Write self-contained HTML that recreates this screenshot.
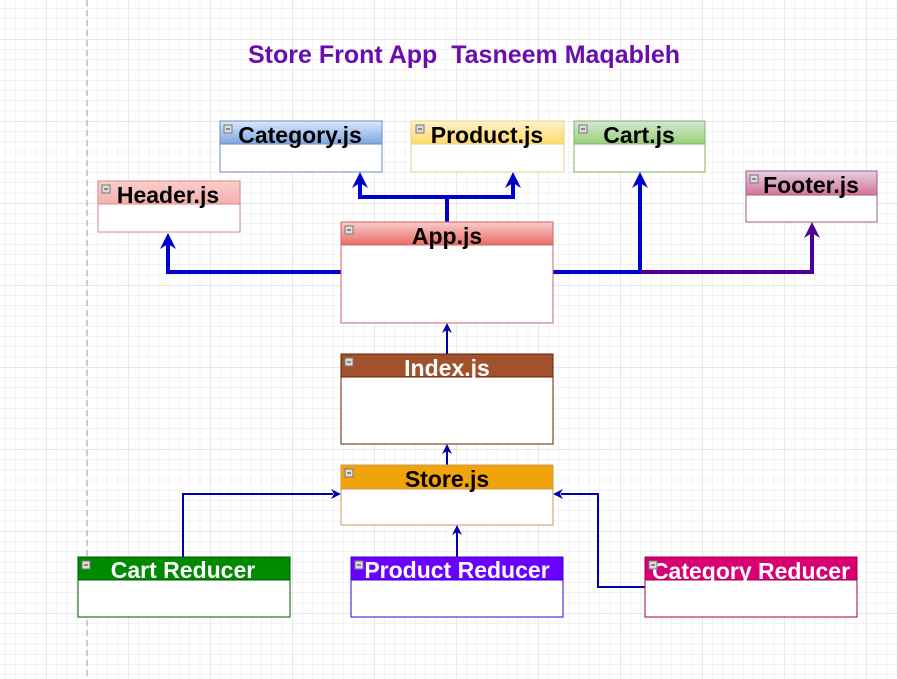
<!DOCTYPE html>
<html><head><meta charset="utf-8"><style>
html,body{margin:0;padding:0;background:#fff}
svg{display:block}
text{font-family:"Liberation Sans",sans-serif;font-weight:bold;white-space:pre}
</style></head><body>
<svg width="897" height="679" viewBox="0 0 897 679" xmlns="http://www.w3.org/2000/svg">
<defs>
<pattern id="minor" x="46" y="39" width="10.25" height="10.25" patternUnits="userSpaceOnUse">
<path d="M0 0H10.25M0 0V10.25" stroke="#e6e6e6" stroke-width="1" fill="none"/>
</pattern>
<pattern id="major" x="46" y="39" width="82" height="82" patternUnits="userSpaceOnUse">
<path d="M0 0H82M0 0V82" stroke="#d0d0d0" stroke-width="1" fill="none"/>
</pattern>
<linearGradient id="gBlue" x1="0" y1="0" x2="0" y2="1"><stop offset="0" stop-color="#dae8fc"/><stop offset="1" stop-color="#7ea6e0"/></linearGradient>
<linearGradient id="gYel" x1="0" y1="0" x2="0" y2="1"><stop offset="0" stop-color="#fff2cc"/><stop offset="1" stop-color="#ffd966"/></linearGradient>
<linearGradient id="gGrn" x1="0" y1="0" x2="0" y2="1"><stop offset="0" stop-color="#d5e8d4"/><stop offset="1" stop-color="#97d077"/></linearGradient>
<linearGradient id="gPink" x1="0" y1="0" x2="0" y2="1"><stop offset="0" stop-color="#f8cecc"/><stop offset="1" stop-color="#f5b0ae"/></linearGradient>
<linearGradient id="gRed" x1="0" y1="0" x2="0" y2="1"><stop offset="0" stop-color="#f8cecc"/><stop offset="1" stop-color="#ea6b66"/></linearGradient>
<linearGradient id="gFoot" x1="0" y1="0" x2="0" y2="1"><stop offset="0" stop-color="#e6d0de"/><stop offset="1" stop-color="#d5739d"/></linearGradient>
</defs>
<rect width="897" height="679" fill="url(#minor)"/>
<rect width="897" height="679" fill="url(#major)"/>
<line x1="87" y1="0" x2="87" y2="679" stroke="#bbb" stroke-width="1.5" stroke-dasharray="6,4"/>

<text x="464" y="63" text-anchor="middle" font-size="25" fill="#6a0dad">Store Front App  Tasneem Maqableh</text>

<g fill="none" stroke="#0000cc" stroke-width="4">
<path d="M447 222V197H360V180M447 197H513V180"/>
<path d="M341 272H168V241"/>
<path d="M553 272H640V180"/>
</g>
<path d="M640 272H812V230" fill="none" stroke="#4c0099" stroke-width="4"/>
<g fill="#0000cc">
<path d="M360 172l-8 16l8-5l8 5z"/>
<path d="M513 172l-8 16l8-5l8 5z"/>
<path d="M168 233l-8 16l8-5l8 5z"/>
<path d="M640 172l-8 16l8-5l8 5z"/>
</g>
<path d="M812 222l-8 16l8-5l8 5z" fill="#4c0099"/>

<g fill="none" stroke="#0000aa" stroke-width="2">
<path d="M447 354V330"/>
<path d="M447 465V451"/>
<path d="M183 557V494H333"/>
<path d="M457 557V532"/>
<path d="M645 587H598V494H561"/>
</g>
<g fill="#0000aa">
<path d="M447 323l-5 10l5-3l5 3z"/>
<path d="M447 444l-5 10l5-3l5 3z"/>
<path d="M457 525l-5 10l5-3l5 3z"/>
<path d="M341 494l-10-5l3 5l-3 5z"/>
<path d="M553 494l10-5l-3 5l3 5z"/>
</g>

<g font-size="23">
<rect x="220" y="121" width="162" height="51" fill="#fff" stroke="#6c8ebf"/>
<rect x="220" y="121" width="162" height="23" fill="url(#gBlue)" stroke="#6c8ebf"/>
<text x="300" y="143" text-anchor="middle" fill="#000">Category.js</text>
<rect x="411" y="121" width="153" height="51" fill="#fff" stroke="#e8d090"/>
<rect x="411" y="121" width="153" height="23" fill="url(#gYel)" stroke="#e8d090"/>
<text x="487" y="143" text-anchor="middle" fill="#000">Product.js</text>
<rect x="574" y="121" width="131" height="51" fill="#fff" stroke="#82b366"/>
<rect x="574" y="121" width="131" height="23" fill="url(#gGrn)" stroke="#82b366"/>
<text x="639" y="143" text-anchor="middle" fill="#000">Cart.js</text>
<rect x="98" y="181" width="142" height="51" fill="#fff" stroke="#d88a88"/>
<rect x="98" y="181" width="142" height="23" fill="url(#gPink)" stroke="#d88a88"/>
<text x="168" y="203" text-anchor="middle" fill="#000">Header.js</text>
<rect x="746" y="171" width="131" height="51" fill="#fff" stroke="#996185"/>
<rect x="746" y="171" width="131" height="24" fill="url(#gFoot)" stroke="#996185"/>
<text x="811" y="193" text-anchor="middle" fill="#000">Footer.js</text>
<rect x="341" y="222" width="212" height="101" fill="#fff" stroke="#d06060"/>
<rect x="341" y="222" width="212" height="23" fill="url(#gRed)" stroke="#d06060"/>
<text x="447" y="244" text-anchor="middle" fill="#000">App.js</text>
<rect x="341" y="354" width="212" height="90" fill="#fff" stroke="#6d1f00"/>
<rect x="341" y="354" width="212" height="23" fill="#a0522d" stroke="#6d1f00"/>
<text x="447" y="376" text-anchor="middle" fill="#fff">Index.js</text>
<rect x="341" y="465" width="212" height="60" fill="#fff" stroke="#c89a5a"/>
<rect x="341" y="465" width="212" height="24" fill="#f0a30a" stroke="#c89a5a"/>
<text x="447" y="487" text-anchor="middle" fill="#000">Store.js</text>
<rect x="78" y="557" width="212" height="60" fill="#fff" stroke="#005700"/>
<rect x="78" y="557" width="212" height="23" fill="#008a00" stroke="#005700"/>
<text x="183" y="578" text-anchor="middle" fill="#fff">Cart Reducer</text>
<rect x="351" y="557" width="212" height="60" fill="#fff" stroke="#3700cc"/>
<rect x="351" y="557" width="212" height="23" fill="#6a00ff" stroke="#3700cc"/>
<text x="457" y="578" text-anchor="middle" fill="#fff">Product Reducer</text>
<rect x="645" y="557" width="212" height="60" fill="#fff" stroke="#a50040"/>
<rect x="645" y="557" width="212" height="23" fill="#d80073" stroke="#a50040"/>
<text x="751" y="579" text-anchor="middle" fill="#fff">Category Reducer</text>
</g>

<g fill="#ddd" stroke="#777" stroke-width="1">
<rect x="224" y="125" width="8" height="8"/>
<rect x="416" y="125" width="8" height="8"/>
<rect x="579" y="125" width="8" height="8"/>
<rect x="102" y="185" width="8" height="8"/>
<rect x="750" y="175" width="8" height="8"/>
<rect x="345" y="226" width="8" height="8"/>
<rect x="345" y="358" width="8" height="8"/>
<rect x="345" y="469" width="8" height="8"/>
<rect x="82" y="561" width="8" height="8"/>
<rect x="355" y="561" width="8" height="8"/>
<rect x="649" y="561" width="8" height="8"/>
</g>
<g stroke="#333" stroke-width="1">
<path d="M226 129h4M418 129h4M581 129h4M104 189h4M752 179h4M347 230h4M347 362h4M347 473h4M84 565h4M357 565h4M651 565h4"/>
</g>
</svg>
</body></html>
